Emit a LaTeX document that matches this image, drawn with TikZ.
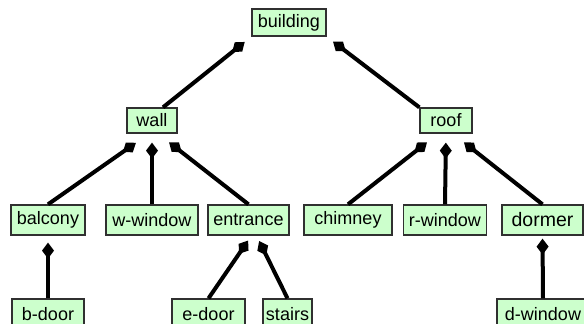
\documentclass[tikz,border=0pt]{standalone}
\usepackage{fontspec}
\setmainfont{Liberation Sans}
\usetikzlibrary{arrows.meta}
\definecolor{partfill}{HTML}{CCFFCC}
\definecolor{partline}{HTML}{303030}
\tikzset{
  part/.style={shape=rectangle, draw=partline, fill=partfill, line width=1.3pt,
    inner sep=0pt, minimum height=30pt, font=\fontsize{18}{20}\selectfont},
  comp/.style={-{Diamond[length=16pt,width=12pt]}, line width=4pt, black}
}
\begin{document}
\begin{tikzpicture}[x=1pt,y=-1pt]
%%%%%%%%%%%%%%%%%%%%%%%%%%%%%%%%%%%%%%%%%%% HELP LINES
%\draw[help lines] (0,0) grid +(584,324);
\useasboundingbox (0,0) rectangle (584,324);

%%%%%%%%%%%%%%%%%%%%%%%%%%%%%%%%%%%%%%%%%%% parts
\node[part, minimum width=74pt, minimum height=27pt](building) at (289,22.5){building};
\node[part, minimum width=50pt, minimum height=25pt](wall) at (152,120.5){wall};
\node[part, minimum width=52pt, minimum height=25pt](roof) at (446,120.5){roof};

\node[part, minimum width=74pt](balcony) at (48,220){balcony};
\node[part, minimum width=92pt](w-window) at (152,220){w-window};
\node[part, minimum width=81pt](entrance) at (248.5,220){entrance};
\node[part, minimum width=88pt](chimney) at (348,220){chimney};
\node[part, minimum width=83pt](r-window) at (445,220){r-window};
\node[part, minimum width=81pt, font=\fontsize{19.5}{21}\selectfont](dormer) at (542.5,220){dormer};

\node[part, minimum width=72pt](b-door) at (48,314){b-door};
\node[part, minimum width=73pt](e-door) at (208.5,314){e-door};
\node[part, minimum width=49pt](stairs) at (287.5,314){stairs};
\node[part, minimum width=92pt](d-window) at (543,314){d-window};

%%%%% compositions
\draw[comp, shorten >=8.5pt] ([xshift=11pt]wall.north) -- (building.south west);
\draw[comp, shorten >=8pt] (roof.north west) -- (building.south east);

\draw[comp, shorten >=16pt] (balcony.north) -- ([xshift=-3pt]wall.south);
\draw[comp, shorten >=9pt] (w-window.north) -- (wall.south);
\draw[comp, shorten >=14pt] (entrance.north) -- ([xshift=6pt]wall.south);

\draw[comp, shorten >=14pt] (chimney.north) -- ([xshift=-8pt]roof.south);
\draw[comp, shorten >=9pt] (r-window.north) -- (roof.south);
\draw[comp, shorten >=14pt] (dormer.north) -- ([xshift=7pt]roof.south);

\draw[comp, shorten >=7pt] (b-door.north) -- (balcony.south);
\draw[comp, shorten >=6pt] (e-door.north) -- ([xshift=3pt]entrance.south);
\draw[comp, shorten >=6pt] (stairs.north) -- ([xshift=8pt]entrance.south);
\draw[comp, shorten >=3pt] (d-window.north) -- (dormer.south);
\end{tikzpicture}
\end{document}
